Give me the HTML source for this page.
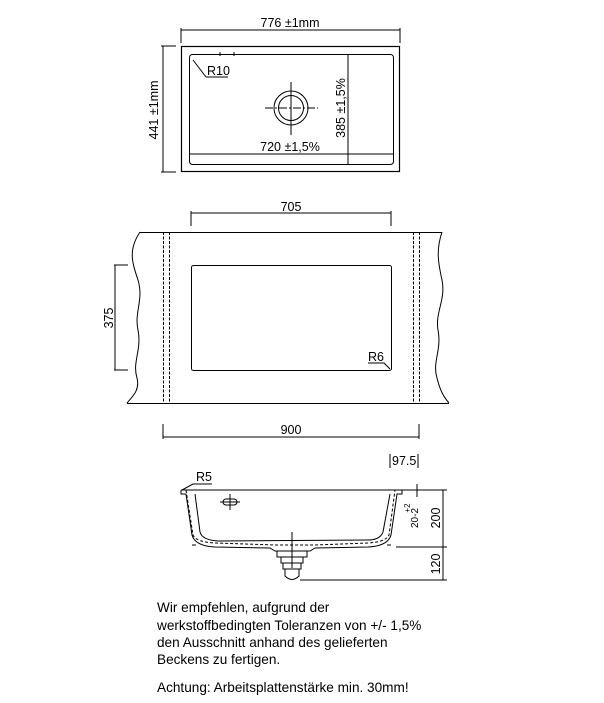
<!DOCTYPE html>
<html><head><meta charset="utf-8"><style>
body{margin:0;background:#fff;width:604px;height:703px;overflow:hidden}
svg{position:absolute;left:0;top:0}
.t{font-family:"Liberation Sans",sans-serif;font-size:13.6px;fill:#000}
.d{font-family:"Liberation Sans",sans-serif;font-size:12.5px;fill:#000}
</style></head><body>
<svg width="604" height="703" viewBox="0 0 604 703" fill="none" stroke="#000" stroke-width="1">
<line x1="181" y1="30" x2="400" y2="30"/>
<line x1="181" y1="28" x2="181" y2="43"/><line x1="400" y1="28" x2="400" y2="43"/>
<text class="d" x="290" y="27" text-anchor="middle" stroke="none">776 ±1mm</text>
<line x1="163" y1="46" x2="163" y2="172"/>
<line x1="161" y1="46" x2="176" y2="46"/><line x1="161" y1="172" x2="176" y2="172"/>
<text class="d" transform="translate(158,110) rotate(-90)" text-anchor="middle" stroke="none">441 ±1mm</text>
<rect x="181.5" y="46.5" width="218" height="125" stroke-width="1.2"/>
<rect x="189.5" y="54.5" width="204" height="110" rx="3"/>
<line x1="348" y1="54" x2="348" y2="164"/>
<line x1="190" y1="154" x2="393" y2="154"/>
<line x1="220" y1="52" x2="220" y2="56"/><line x1="234" y1="52" x2="234" y2="56"/>
<line x1="193" y1="60" x2="206" y2="77"/><line x1="206" y1="77" x2="228" y2="77"/>
<text class="d" x="207" y="75" stroke="none">R10</text>
<circle cx="291" cy="108" r="17"/><circle cx="291" cy="108" r="12.5"/>
<line x1="265" y1="108" x2="318" y2="108" stroke-dasharray="8,2,2,2"/>
<line x1="291" y1="82" x2="291" y2="135"/>
<text class="d" x="290" y="151" text-anchor="middle" stroke="none">720 ±1,5%</text>
<text class="d" transform="translate(345,108) rotate(-90)" text-anchor="middle" stroke="none">385 ±1,5%</text>
<line x1="191" y1="213" x2="391" y2="213"/>
<line x1="191" y1="211" x2="191" y2="226"/><line x1="391" y1="211" x2="391" y2="226"/>
<text class="d" x="291" y="211" text-anchor="middle" stroke="none">705</text>
<line x1="140" y1="232.5" x2="442" y2="232.5"/>
<line x1="127" y1="403.5" x2="449" y2="403.5"/>
<path d="M140,232 C128,250 132,262 138,280 C144,300 134,312 138,330 C142,350 132,362 137,378 C140,390 133,396 127,403"/>
<path d="M442,232 C436,250 438,262 442,280 C446,300 435,312 438,330 C442,350 432,362 437,378 C440,390 443,396 449,403"/>
<line x1="163.5" y1="232" x2="163.5" y2="403" stroke-dasharray="3,1.5"/>
<line x1="169.5" y1="232" x2="169.5" y2="403" stroke-dasharray="3,1.5"/>
<line x1="413.5" y1="232" x2="413.5" y2="403" stroke-dasharray="3,1.5"/>
<line x1="419.5" y1="232" x2="419.5" y2="403" stroke-dasharray="3,1.5"/>
<rect x="191.5" y="265.5" width="200" height="105" rx="2"/>
<line x1="115" y1="265" x2="115" y2="370"/>
<line x1="114" y1="265" x2="128" y2="265"/><line x1="114" y1="370" x2="128" y2="370"/>
<text class="d" transform="translate(113,318) rotate(-90)" text-anchor="middle" stroke="none">375</text>
<text class="d" x="368" y="361" stroke="none">R6</text>
<path d="M368,363 L384,363 L390,369"/>
<line x1="163" y1="437" x2="419" y2="437"/>
<line x1="163" y1="424" x2="163" y2="439"/><line x1="419" y1="424" x2="419" y2="439"/>
<text class="d" x="291" y="434" text-anchor="middle" stroke="none">900</text>
<text class="d" x="392" y="465" stroke="none">97.5</text>
<line x1="390" y1="454" x2="390" y2="468"/><line x1="418" y1="454" x2="418" y2="468"/>
<text class="d" x="196" y="481" stroke="none">R5</text>
<path d="M182,490 L193,484 L212,484"/>
<line x1="181" y1="490" x2="408" y2="490"/>
<path d="M181,490 L181,494 L186,494 L192,535 Q195,546 215,547 L270,548 L275,551 L310,551 L315,548 L368,547 Q388,546 391,535 L397,494 L402,494 L402,490"/>
<path d="M186,490 L193,535 Q196,542 215,543 L275,545 L315,545 L368,543 Q386,542 389,535 L395,490" stroke-dasharray="3,2"/>
<path d="M195,494 L200,532 Q202,540 218,541 L368,540 Q380,540 383,532 L390,494"/>
<line x1="192" y1="545" x2="196" y2="545"/>
<line x1="387" y1="545" x2="391" y2="545"/>
<rect x="277" y="551" width="30" height="6"/>
<rect x="281" y="557" width="22" height="6"/>
<rect x="283" y="563" width="18" height="6"/>
<path d="M285,569 L285,576 Q292,583 299,576 L299,569"/>
<line x1="292" y1="532" x2="292" y2="568"/>
<line x1="230" y1="494" x2="230" y2="510"/>
<rect x="223" y="499" width="14" height="6" rx="3"/>
<line x1="220" y1="502" x2="240" y2="502"/>
<line x1="405" y1="490" x2="447" y2="490"/>
<line x1="396" y1="547" x2="447" y2="547"/>
<line x1="300" y1="580" x2="447" y2="580"/>
<line x1="443" y1="490" x2="443" y2="580"/>
<line x1="417" y1="484" x2="417" y2="497"/>
<text class="d" transform="translate(440,518) rotate(-90)" text-anchor="middle" stroke="none">200</text>
<text class="d" transform="translate(440,564) rotate(-90)" text-anchor="middle" stroke="none">120</text>
<text class="d" transform="translate(418,518) rotate(-90)" text-anchor="middle" stroke="none" style="font-size:10px">20-2</text>
<text class="d" transform="translate(410,508) rotate(-90)" text-anchor="middle" stroke="none" style="font-size:8px">+2</text>
</svg>
<svg width="604" height="703">
<text class="t" x="157" y="612">Wir empfehlen, aufgrund der</text>
<text class="t" x="157" y="630">werkstoffbedingten Toleranzen von +/- 1,5%</text>
<text class="t" x="157" y="647">den Ausschnitt anhand des gelieferten</text>
<text class="t" x="157" y="664">Beckens zu fertigen.</text>
<text class="t" x="157" y="692">Achtung: Arbeitsplattenstärke min. 30mm!</text>
</svg>
</body></html>
